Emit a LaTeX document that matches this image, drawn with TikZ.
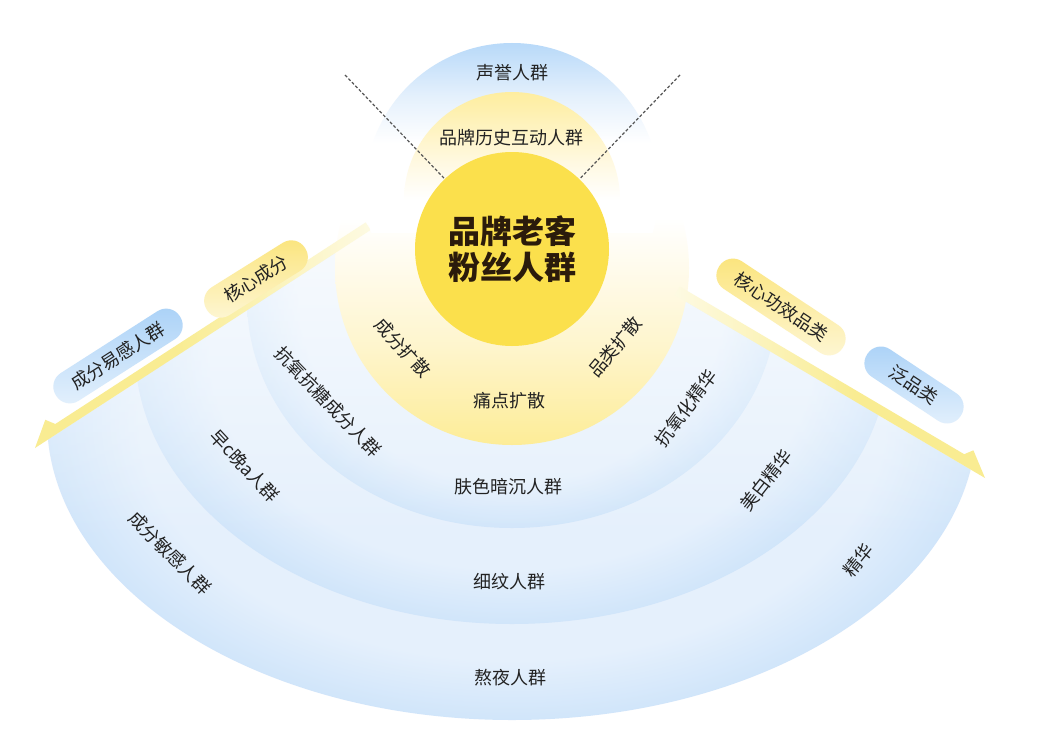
\documentclass[tikz,border=0pt]{standalone}
\usepackage{fontspec}
\setmainfont{Noto Sans CJK SC}
\usetikzlibrary{fadings}
\definecolor{txt}{HTML}{222222}
\definecolor{ctxt}{HTML}{2B1B0B}
\definecolor{cyel}{HTML}{FBE04C}
\definecolor{topblue}{HTML}{7EBCF5}
\definecolor{tbtwo}{HTML}{AED4F8}
\definecolor{tbthree}{HTML}{E4F0FC}
\definecolor{tyone}{HTML}{FCE47A}
\definecolor{tytwo}{HTML}{FEEFA8}
\definecolor{tythree}{HTML}{FFF9E2}
\definecolor{pyone}{HTML}{FCE35E}
\definecolor{pytwo}{HTML}{FDEC95}
\definecolor{pythree}{HTML}{FEF5CC}
\definecolor{pyfour}{HTML}{FFFBEC}
\definecolor{ringlight}{HTML}{E5F0FC}
\definecolor{ringdark}{HTML}{B0D4F7}
\definecolor{arrowy}{HTML}{F9EC92}
\definecolor{pilly}{HTML}{FBE47A}
\definecolor{pillb}{HTML}{A9D1F7}
\definecolor{dashgray}{HTML}{555555}
\pgfdeclareverticalshading{topblueshade}{100bp}{color(0bp)=(white); color(58bp)=(white); color(66bp)=(tbthree); color(77bp)=(tbtwo); color(85.4bp)=(topblue); color(100bp)=(topblue)}
\pgfdeclareverticalshading{topyelshade}{100bp}{color(0bp)=(white); color(50bp)=(white); color(58.5bp)=(tythree); color(72.6bp)=(tytwo); color(85.4bp)=(tyone); color(100bp)=(tyone)}
\pgfdeclareverticalshading{painshade}{100bp}{color(0bp)=(pyone); color(14.6bp)=(pyone); color(24.5bp)=(pytwo); color(38.7bp)=(pythree); color(50bp)=(pyfour); color(57bp)=(white); color(100bp)=(white)}
\pgfdeclareradialshading{ringshade}{\pgfpoint{0bp}{0bp}}{color(0bp)=(ringlight); color(20bp)=(ringlight); color(33bp)=(ringdark); color(50bp)=(ringdark)}
\pgfdeclarehorizontalshading{arrowL}{100bp}{color(0bp)=(arrowy); color(46bp)=(arrowy); color(85.4bp)=(white); color(100bp)=(white)}
\pgfdeclarehorizontalshading{arrowR}{100bp}{color(0bp)=(white); color(14.6bp)=(white); color(54bp)=(arrowy); color(100bp)=(arrowy)}
\begin{document}
\begin{tikzpicture}[x=1pt,y=-1pt,
  lbl/.style={font=\fontsize{18}{22}\selectfont, text=txt, inner sep=0pt},
  pill/.style={rounded corners=16pt, minimum height=33pt, inner sep=0pt, font=\fontsize{18}{22}\selectfont, text=txt},
  ypill/.style={pill, top color=pilly, bottom color=pilly!30!white},
  bpill/.style={pill, top color=pillb, bottom color=pillb!30!white},
  dashline/.style={draw=dashgray, line width=1.2pt, dash pattern=on 3pt off 2pt}]
\useasboundingbox (0,0) rectangle (1040,752);
\fill[white] (0,0) rectangle (1040,752);
% bottom fan rings
\begin{scope}
\clip (0,470.7) -- (430,191.5) -- (600,251.2) -- (1040,510.4) -- (1040,752) -- (0,752) -- cycle;
\shade[shading=ringshade] (512,420) ellipse [x radius=465, y radius=300];
\shade[shading=ringshade] (512,350) ellipse [x radius=377, y radius=274];
\shade[shading=ringshade] (512,300) ellipse [x radius=265, y radius=228];
\fill[white, path fading=south, fill opacity=0.8] (0,190) rectangle (1040,540);
\end{scope}
% pain point disk
\shade[shading=painshade] (512,268) circle (177);
% top circles
\begin{scope}
\clip (0,0) rectangle (1040,232);
\shade[shading=topblueshade] (512,190) circle (147);
\shade[shading=topyelshade] (512,200) circle (108);
\end{scope}
% arrows
\coordinate (tl) at (35,448);
\coordinate (tr) at (985,478);
\shade[shading=arrowL] (tl) -- (45.3,419.8) -- (55.3,424.0) -- (365.7,222.4) -- (370.6,230) -- cycle;
\shade[shading=arrowR] (tr) -- (973.4,450.3) -- (964.2,454.2) -- (679.8,286.5) -- (674.7,295.1) -- cycle;
% center circle
\node[circle, fill=cyel, minimum size=194pt, inner sep=0pt, align=center,
      font=\bfseries\fontsize{32}{36}\selectfont, text=ctxt] (c) at (512,249) {品牌老客\\粉丝人群};
% dashed lines
\coordinate (dl) at (345,75);
\coordinate (dr) at (680,75);
\draw[dashline] (dl) -- (c);
\draw[dashline] (dr) -- (c);
% pills
\node[ypill, minimum width=116pt, rotate=32] (p1) at (256,279) {核心成分};
\node[bpill, minimum width=147pt, rotate=32.6] (p2) at (118,356) {成分易感人群};
\node[ypill, minimum width=148pt, rotate=-33.5] (p3) at (781,307) {核心功效品类};
\node[bpill, minimum width=112pt, rotate=-33.5] (p4) at (914,385) {泛品类};
% labels
\node[lbl] (t1) at (512,73) {声誉人群};
\node[lbl] (t2) at (511,138) {品牌历史互动人群};
\node[lbl, rotate=-48] (t3) at (403,348) {成分扩散};
\node[lbl, rotate=50] (t4) at (615,347) {品类扩散};
\node[lbl] (t5) at (509,401) {痛点扩散};
\node[lbl, rotate=-46] (t6) at (328,402) {抗氧抗糖成分人群};
\node[lbl, rotate=53] (t7) at (686,408) {抗氧化精华};
\node[lbl] (t8) at (508,487) {肤色暗沉人群};
\node[lbl, rotate=-47] (t9) at (245,466) {早c晚a人群};
\node[lbl, rotate=52] (t10) at (766,480) {美白精华};
\node[lbl] (t11) at (509,582) {细纹人群};
\node[lbl, rotate=-45] (t12) at (170,553) {成分敏感人群};
\node[lbl, rotate=51] (t13) at (858,560) {精华};
\node[lbl] (t14) at (510,678) {熬夜人群};
\end{tikzpicture}
\end{document}
